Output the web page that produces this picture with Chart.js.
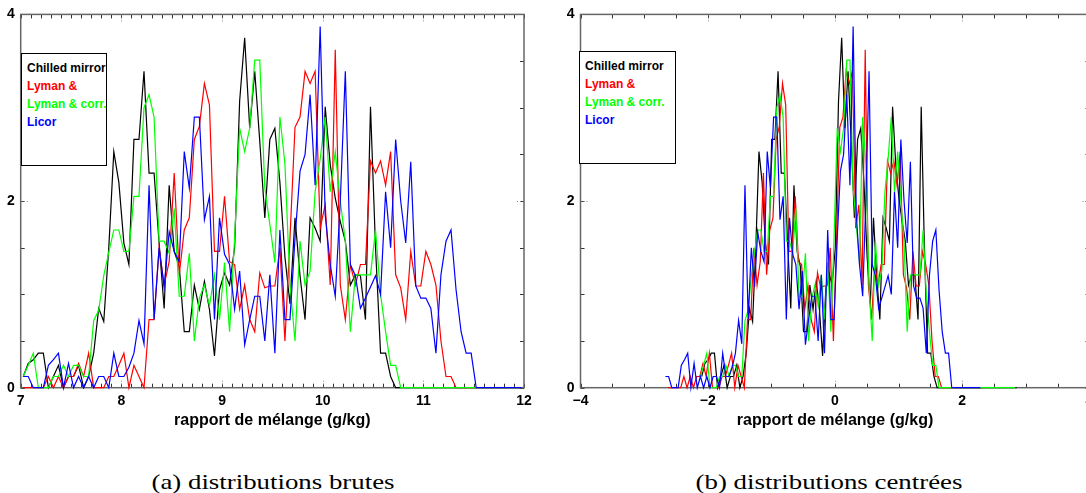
<!DOCTYPE html>
<html>
<head>
<meta charset="utf-8">
<script src="https://cdn.jsdelivr.net/npm/chart.js@4.4.1/dist/chart.umd.min.js"></script>
<style>
  html, body { margin: 0; padding: 0; background: #fff; width: 1086px; height: 493px; overflow: hidden; }
  .panneau { position: absolute; top: 0; }
  .legende {
    position: absolute; box-sizing: border-box; border: 1px solid #000; background: #fff;
    font: bold 12px "Liberation Sans", Arial, sans-serif; line-height: 18px; padding: 5px 0 0 5px;
  }
  .legende div { white-space: nowrap; }
  .legende-titre {
    position: absolute; width: 420px; text-align: center; font: 22px "Liberation Serif", serif;
    line-height: 24px; top: 470px; transform: scaleX(1.22); transform-origin: center;
  }
</style>
</head>
<body>
<canvas id="chartBrutes" class="panneau" width="545" height="445" style="left:0px"></canvas>
<canvas id="chartCentrees" class="panneau" width="560" height="445" style="left:540px"></canvas>

<div class="legende" style="left:21px;top:53px;width:86px;height:113px">
  <div style="color:#000">Chilled mirror</div>
  <div style="color:#ff0000">Lyman &amp;</div>
  <div style="color:#00ff00">Lyman &amp; corr.</div>
  <div style="color:#0000ff">Licor</div>
</div>
<div class="legende" style="left:579px;top:51px;width:97px;height:113px">
  <div style="color:#000">Chilled mirror</div>
  <div style="color:#ff0000">Lyman &amp;</div>
  <div style="color:#00ff00">Lyman &amp; corr.</div>
  <div style="color:#0000ff">Licor</div>
</div>

<div class="legende-titre" style="left:63px">(a) distributions brutes</div>
<div class="legende-titre" style="left:619px">(b) distributions centrées</div>

<script>
// Classes de rapport de mélange (g/kg) : 100 classes de 0.05 à partir de 7.0
const debutClasses = 7.025;
const largeurClasse = 0.05;
const nbClasses = 100;

// Densités (a), une valeur par classe
const chilledMirror = [
  0.12, 0.26, 0.3, 0.37, 0.37, 0, 0.12, 0.24, 0, 0.12,
  0.12, 0.24, 0, 0.12, 0.37, 0.85, 0.71, 1.5, 2.53, 2.2,
  1.55, 1.32, 2.66, 2.66, 3.39, 2.3, 2.3, 1.55, 0.85, 2.17,
  1.46, 1.3, 0.6, 0.6, 1.1, 0.84, 1.14, 0.84, 0.34, 1.05,
  1.23, 1.1, 1.5, 3.07, 3.75, 2.78, 3.39, 2.64, 1.82, 2.66,
  2.78, 2.2, 1.4, 0.9, 1.82, 1.2, 0.73, 1.82, 1.71, 1.57,
  3.01, 2.39, 2.03, 1.78, 1.57, 1.1, 1.21, 1.2, 0.73, 3.01,
  1.5, 0.37, 0.37, 0.12, 0, 0, 0, 0, 0, 0,
  0, 0, 0, 0, 0, 0, 0, 0, 0, 0,
  0, 0, 0, 0, 0, 0, 0, 0, 0, 0
];
const lyman = [
  0, 0, 0, 0, 0, 0.12, 0, 0.12, 0, 0.12,
  0.12, 0.26, 0.12, 0.37, 0, 0, 0, 0.12, 0.12, 0.24,
  0.37, 0, 0.24, 0.12, 0, 0.73, 0.73, 1.5, 1.1, 1.35,
  2.3, 1.21, 1.69, 1.82, 2.66, 2.8, 3.26, 3.03, 1.46, 1.46,
  2.05, 1.35, 1.32, 0.84, 1.1, 0.73, 0.6, 1.23, 1.07, 1.09,
  1.09, 1.5, 0.5, 1.6, 2.79, 2.9, 3.39, 3.26, 3.39, 1.71,
  1.96, 1.1, 3.62, 1.1, 0.73, 1.32, 1.1, 1.32, 1.32, 2.43,
  2.3, 2.43, 2.17, 2.53, 1.21, 1.07, 0.73, 1.46, 1.09, 1.09,
  1.46, 1.32, 1.1, 0.5, 0.12, 0.12, 0, 0, 0, 0,
  0, 0, 0, 0, 0, 0, 0, 0, 0, 0
];
const lymanCorr = [
  0.12, 0.24, 0.37, 0, 0, 0, 0.12, 0.12, 0.24, 0.12,
  0.24, 0.24, 0.12, 0.12, 0.72, 0.83, 1.2, 1.45, 1.69, 1.69,
  1.46, 1.46, 2.05, 2.05, 3.0, 3.14, 2.9, 1.57, 1.57, 1.44,
  1.92, 0.98, 0.98, 1.44, 0.5, 0.96, 1.1, 0.88, 1.21, 0.73,
  1.34, 0.6, 1.6, 2.78, 2.53, 2.78, 3.51, 3.51, 2.14, 1.75,
  1.34, 2.9, 2.4, 1.1, 0.5, 1.57, 1.1, 1.25, 2.1, 2.45,
  2.9, 2.1, 2.53, 2.0, 1.57, 0.6, 1.21, 1.21, 1.21, 1.21,
  1.69, 1.0, 0.6, 0.24, 0.24, 0, 0, 0, 0, 0,
  0, 0, 0, 0, 0, 0, 0, 0, 0, 0,
  0, 0, 0, 0, 0, 0, 0, 0, 0, 0
];
const licor = [
  0.12, 0.12, 0, 0, 0, 0.24, 0.3, 0.37, 0, 0.26,
  0, 0.12, 0, 0.12, 0, 0.12, 0.12, 0, 0.37, 0.12,
  0.12, 0.22, 0.37, 0.72, 0.47, 2.17, 0.73, 1.5, 1.08, 1.67,
  1.46, 1.35, 2.53, 2.14, 2.9, 2.9, 1.8, 2.05, 0.73, 1.82,
  1.43, 1.32, 0.84, 1.25, 0.46, 0.73, 0.98, 0.98, 0.5, 1.21,
  0.37, 1.69, 0.73, 0.73, 1.6, 2.32, 2.5, 3.14, 2.17, 3.87,
  1.85, 1.32, 0.98, 2.0, 3.39, 1.32, 1.2, 0.85, 0.96, 1.08,
  1.2, 1.0, 2.1, 1.5, 2.66, 2.0, 1.55, 2.42, 1.09, 0.96,
  0.96, 0.85, 0.37, 1.21, 1.57, 1.69, 1.05, 0.6, 0.37, 0.37,
  0, 0, 0, 0, 0, 0, 0, 0, 0, 0
];

// Moyennes retirées pour la figure (b), g/kg
const centres = [9.12, 9.65, 9.14, 9.69];

const noms = ['Chilled mirror', 'Lyman &', 'Lyman & corr.', 'Licor'];
const couleurs = ['#000000', '#ff0000', '#00ff00', '#0000ff'];
const series = [chilledMirror, lyman, lymanCorr, licor];

const ticksBrutes = [7, 8, 9, 10, 11, 12];
const ticksCentrees = [-4, -2, 0, 2, 4];
const ticksY = [0, 2, 4];

const classes = [];
for (let k = 0; k < nbClasses; k++) classes.push(+(debutClasses + k * largeurClasse).toFixed(3));

const policeAxe = "'Liberation Sans', Arial, sans-serif";

// Cadre façon Matlab : ticks vers l'intérieur sur les 4 côtés + petits pointillés aux graduations principales
const cadreMatlab = {
  id: 'cadreMatlab',
  beforeDatasetsDraw(chart, args, opts) {
    const { ctx, chartArea: a, scales: { x, y } } = chart;
    ctx.save();
    ctx.strokeStyle = '#333';
    ctx.lineWidth = 1;
    ctx.beginPath();
    x.ticks.forEach(t => {
      const px = Math.round(x.getPixelForValue(t.value)) + 0.5;
      ctx.moveTo(px, a.top); ctx.lineTo(px, a.top + 4);
      ctx.moveTo(px, a.bottom); ctx.lineTo(px, a.bottom - 4);
    });
    y.ticks.forEach(t => {
      const py = Math.round(y.getPixelForValue(t.value)) + 0.5;
      ctx.moveTo(a.left, py); ctx.lineTo(a.left + 4, py);
      ctx.moveTo(a.right, py); ctx.lineTo(a.right - 4, py);
    });
    ctx.stroke();

    // pointillés
    ctx.strokeStyle = '#888';
    ctx.setLineDash([1, 2]);
    ctx.beginPath();
    opts.majeursX.forEach(v => {
      if (v <= x.min || v >= x.max) return;
      const px = Math.round(x.getPixelForValue(v)) + 0.5;
      ctx.moveTo(px, a.top); ctx.lineTo(px, a.top + 8);
      ctx.moveTo(px, a.bottom); ctx.lineTo(px, a.bottom - 8);
    });
    [2].forEach(v => {
      const py = Math.round(y.getPixelForValue(v)) + 0.5;
      ctx.moveTo(a.left, py); ctx.lineTo(a.left + 8, py);
      ctx.moveTo(a.right, py); ctx.lineTo(a.right - 8, py);
    });
    ctx.stroke();
    ctx.setLineDash([]);

    ctx.strokeStyle = '#666';
    ctx.lineWidth = 1.5;
    ctx.strokeRect(a.left, a.top, a.right - a.left, a.bottom - a.top);
    ctx.restore();
  }
};

function creerGraphique(canvasId, cfg) {
  const datasets = series.map((serie, i) => ({
    label: noms[i],
    data: classes.map((c, k) => ({ x: +(c - cfg.decalages[i]).toFixed(3), y: serie[k] })),
    borderColor: couleurs[i],
    borderWidth: 1.2,
    pointRadius: 0,
    tension: 0,
    clip: false,
    order: 4 - i // le dernier de la légende est dessiné au-dessus
  }));

  return new Chart(document.getElementById(canvasId), {
    type: 'line',
    data: { datasets },
    options: {
      responsive: false,
      animation: false,
      events: [],
      layout: { padding: cfg.padding },
      plugins: {
        legend: { display: false },
        tooltip: { enabled: false },
        cadreMatlab: { majeursX: cfg.ticksX }
      },
      scales: {
        x: {
          type: 'linear',
          min: cfg.min,
          max: cfg.max,
          afterFit: s => { s.height = 57.3; },
          grid: { display: false, drawTicks: false },
          border: { display: false },
          ticks: {
            stepSize: cfg.pas,
            autoSkip: false,
            maxRotation: 0,
            padding: 5,
            color: '#000',
            font: { family: policeAxe, weight: 'bold', size: 14 },
            callback: v => (cfg.ticksX.some(t => Math.abs(t - v) < 1e-6) ? String(Math.round(v)).replace('-', '\u2212') : '')
          },
          title: {
            display: true,
            text: 'rapport de mélange (g/kg)',
            color: '#000',
            font: { family: policeAxe, weight: 'bold', size: 16 },
            padding: { top: 0, bottom: 15 }
          }
        },
        y: {
          min: 0,
          max: 4,
          afterFit: s => { s.width = cfg.largeurY; },
          grid: { display: false, drawTicks: false },
          border: { display: false },
          ticks: {
            stepSize: 0.5,
            autoSkip: false,
            padding: 6,
            color: '#000',
            font: { family: policeAxe, weight: 'bold', size: 14 },
            callback: v => (ticksY.includes(v) ? String(v) : '')
          }
        }
      }
    },
    plugins: [cadreMatlab]
  });
}

creerGraphique('chartBrutes', {
  min: 7, max: 12, pas: 0.1,
  ticksX: ticksBrutes,
  decalages: [0, 0, 0, 0],
  largeurY: 20.7,
  padding: { top: 14, right: 21, left: 0, bottom: 0 }
});

creerGraphique('chartCentrees', {
  min: -4, max: 4, pas: 0.5,
  ticksX: ticksCentrees,
  decalages: centres,
  largeurY: 40.5,
  padding: { top: 11, right: 10.5, left: 0, bottom: 0 }
});
</script>
</body>
</html>
